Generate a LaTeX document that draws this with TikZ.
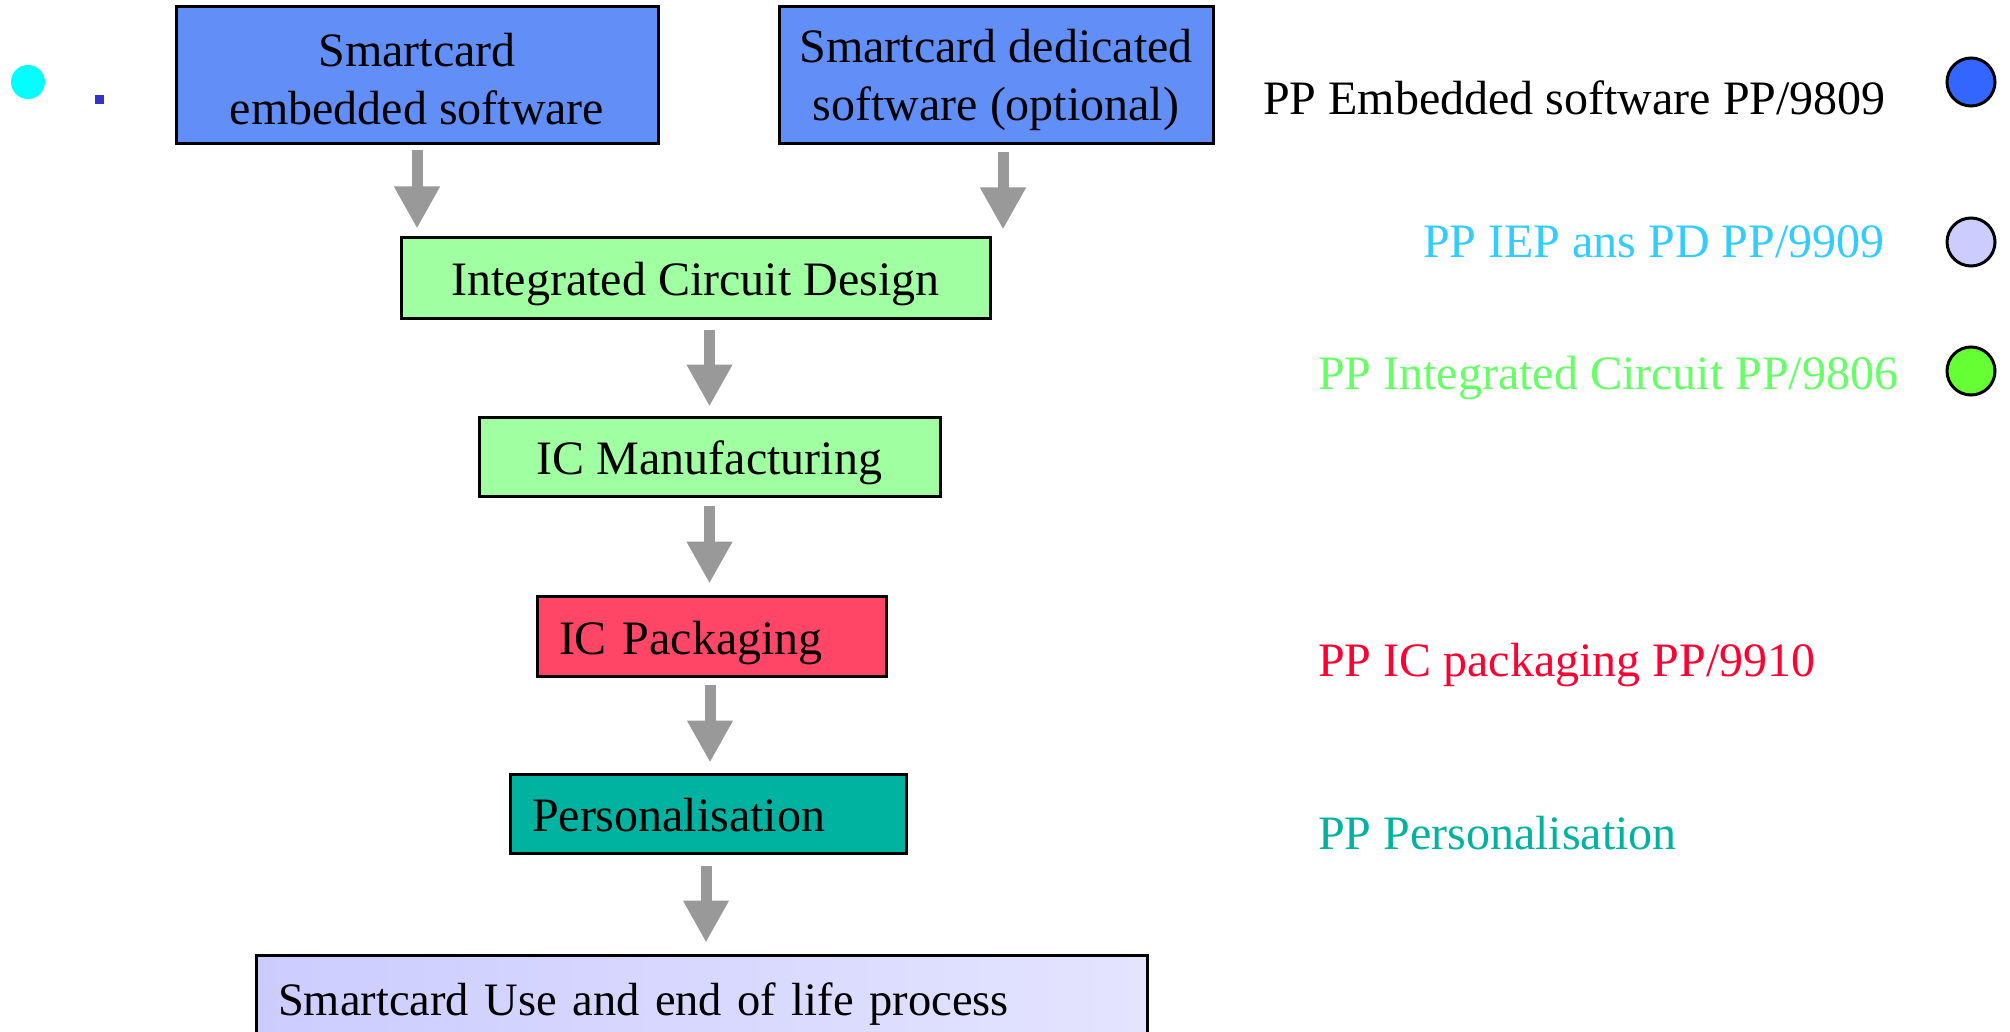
\documentclass[tikz,border=0pt]{standalone}
\usepackage{fontspec}
\setmainfont{Liberation Serif}
\usetikzlibrary{arrows.meta,calc}
\definecolor{swblue}{RGB}{97,143,247}
\definecolor{icgreen}{RGB}{160,255,160}
\definecolor{pkred}{RGB}{255,70,102}
\definecolor{psteal}{RGB}{0,179,160}
\definecolor{lavL}{RGB}{204,204,255}
\definecolor{lavR}{RGB}{228,228,255}
\definecolor{arrgray}{RGB}{153,153,153}
\definecolor{legblue}{RGB}{51,204,255}
\definecolor{leggreen}{RGB}{102,255,102}
\definecolor{legred}{RGB}{255,0,51}
\definecolor{cirblue}{RGB}{51,102,255}
\definecolor{cirlav}{RGB}{204,204,255}
\definecolor{cirgreen}{RGB}{102,255,51}
\definecolor{dotcyan}{RGB}{0,255,255}
\definecolor{sqblue}{RGB}{51,51,204}
\tikzset{
  boxframe/.style={draw=black, line width=3pt, rectangle, inner sep=0pt},
  boxtext/.style={inner sep=0pt, align=center, font=\fontsize{48}{58}\selectfont},
  boxc/.style={draw=black, line width=3pt, rectangle, inner sep=0pt,
    text height=42pt, text depth=6pt, font=\fontsize{48}{58}\selectfont},
  boxl/.style={draw=black, line width=3pt, rectangle, inner ysep=0pt, inner xsep=22pt, align=left,
    text height=42pt, text depth=6pt, font=\fontsize{48}{58}\selectfont},
  flowarrow/.style={draw=arrgray, line width=11pt, -{Triangle[width=43pt,length=42pt]}},
  legtext/.style={inner sep=0pt, anchor=base west, font=\fontsize{48}{58}\selectfont},
  legdot/.style={circle, draw=black, line width=3pt, minimum size=48pt, inner sep=0pt}
}
\begin{document}
\begin{tikzpicture}[x=1pt,y=-1pt]
\useasboundingbox (0,0) rectangle (2010,1032);
\fill[white] (0,0) rectangle (2010,1032);
% decorations top-left
\node[circle, fill=dotcyan, minimum size=34pt, inner sep=0pt] (cdot) at (28,82) {};
\node[rectangle, fill=sqblue, minimum size=8.5pt, inner sep=0pt] (bsq) at (99.5,99.5) {};
% boxes
\node[boxframe, fill=swblue, minimum width=482pt, minimum height=137pt] (b1) at (417,75.5) {};
\node[boxtext] (t1) at ([yshift=-4pt]b1.center) {Smartcard\\embedded software};
\node[boxframe, fill=swblue, minimum width=434pt, minimum height=137pt] (b2) at (996,75.5) {};
\node[boxtext] (t2) at ([yshift=-4pt]b2.center) {Smartcard dedicated\\software (optional)};
\node[boxc, fill=icgreen, minimum width=589pt, minimum height=80pt] (b3) at (695.5,278) {Integrated Circuit Design};
\node[boxc, fill=icgreen, minimum width=461pt, minimum height=79pt] (b4) at (709.5,456.5) {IC Manufacturing};
\node[boxl, fill=pkred, text width=305pt, minimum height=80pt] (b5) at (711.5,636) {IC Packaging};
\node[boxl, fill=psteal, text width=352pt, minimum height=79pt] (b6) at (708,813.5) {Personalisation};
\node[boxl, left color=lavL, right color=lavR, text width=847pt, minimum height=84pt,
  font=\fontsize{46.5}{56}\selectfont] (b7) at (701.5,997) {Smartcard Use and end of life process};
% arrows
\draw[flowarrow] ([yshift=-5pt]b1.south) -- ([yshift=8pt]b1.south |- b3.north);
\draw[flowarrow] ([xshift=7pt,yshift=-7pt]b2.south) -- ([xshift=7pt,yshift=7pt]b2.south |- b3.north);
\draw[flowarrow] ([yshift=-10pt]b4.north |- b3.south) -- ([yshift=9pt]b4.north);
\draw[flowarrow] ([yshift=-8pt]b4.south) -- ([yshift=11pt]b4.south |- b5.north);
\draw[flowarrow] ([xshift=-1.5pt,yshift=-7pt]b5.south) -- ([xshift=-1.5pt,yshift=10pt]b5.south |- b6.north);
\draw[flowarrow] ([xshift=-2pt,yshift=-11pt]b6.south) -- ([xshift=-2pt,yshift=11pt]b6.south |- b7.north);
% legend
\node[legtext, text=black] (l1) at (1263,115) {PP Embedded software PP/9809};
\node[legtext, text=legblue] (l2) at (1423,258) {PP IEP ans PD PP/9909};
\node[legtext, text=leggreen] (l3) at (1318,389) {PP Integrated Circuit PP/9806};
\node[legtext, text=legred] (l4) at (1318,676) {PP IC packaging PP/9910};
\node[legtext, text=psteal] (l5) at (1318,849) {PP Personalisation};
\node[legdot, fill=cirblue] (c1) at (1971,82) {};
\node[legdot, fill=cirlav] (c2) at (1971,242) {};
\node[legdot, fill=cirgreen] (c3) at (1971,371) {};
\end{tikzpicture}
\end{document}
